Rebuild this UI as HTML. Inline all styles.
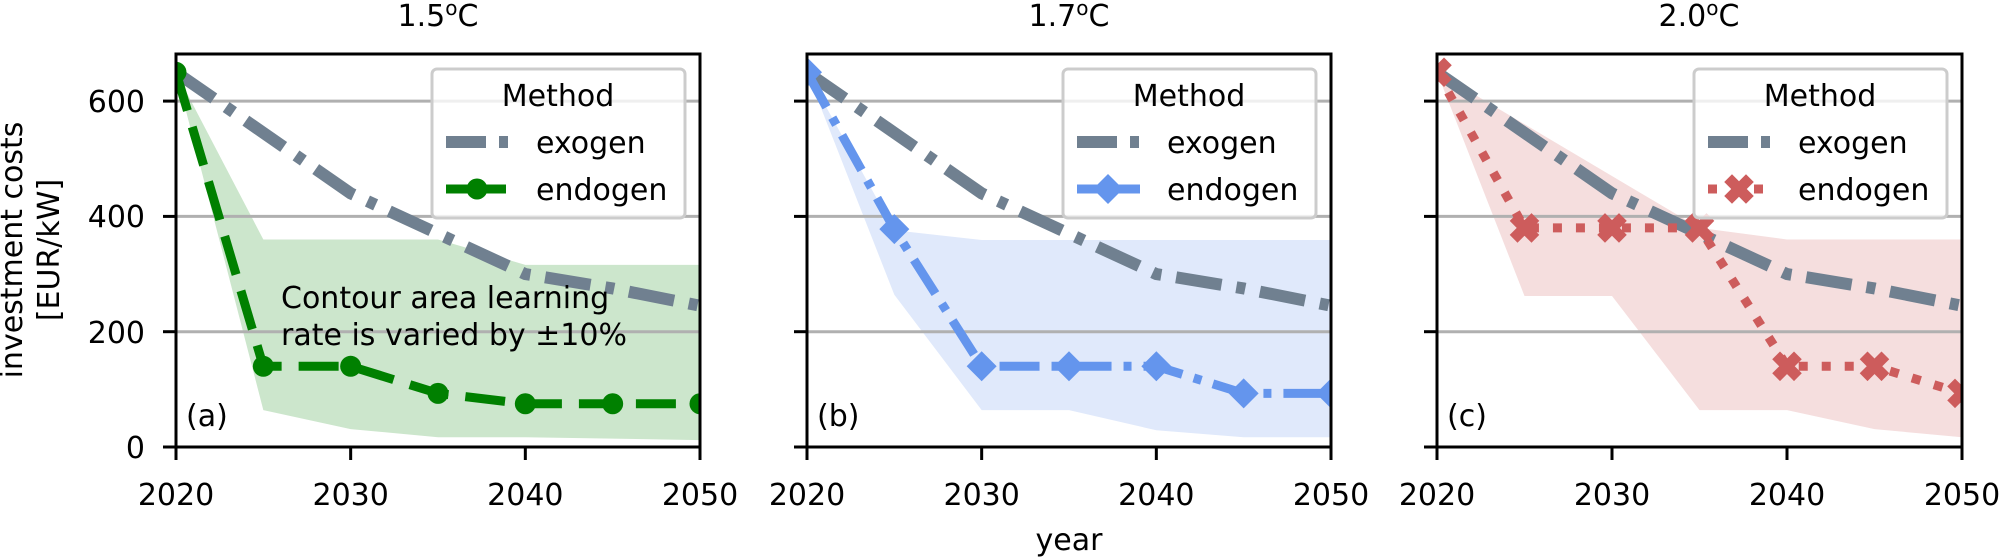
<!DOCTYPE html>
<html><head><meta charset="utf-8"><style>
html,body{margin:0;padding:0;background:#fff;}
svg{display:block;font-family:"DejaVu Sans","Liberation Sans",sans-serif;}
</style></head><body>
<svg id="s" width="2000" height="559" viewBox="0 0 2000 559" xmlns="http://www.w3.org/2000/svg">
<g id="plots"></g>
<g font-size="30" fill="#000">
<text x="438" y="26" text-anchor="middle">1.5<tspan font-size="20" dy="-11">o</tspan><tspan dy="11">C</tspan></text>
<text x="1069" y="26" text-anchor="middle">1.7<tspan font-size="20" dy="-11">o</tspan><tspan dy="11">C</tspan></text>
<text x="1699" y="26" text-anchor="middle">2.0<tspan font-size="20" dy="-11">o</tspan><tspan dy="11">C</tspan></text>
<text x="145" y="458" text-anchor="end">0</text>
<text x="145" y="343" text-anchor="end">200</text>
<text x="145" y="227" text-anchor="end">400</text>
<text x="145" y="112" text-anchor="end">600</text>
<text x="1069" y="550" text-anchor="middle">year</text>
<text transform="translate(22,250) rotate(-90)" text-anchor="middle">investment costs</text>
<text transform="translate(59,250) rotate(-90)" text-anchor="middle">[EUR/kW]</text>
<text x="281" y="308">Contour area learning</text>
<text x="281" y="345">rate is varied by ±10%</text>
<text x="186" y="426">(a)</text>
<text x="817" y="426">(b)</text>
<text x="1447" y="426">(c)</text>
</g>
<g id="ticks" font-size="30" text-anchor="middle"></g>
<g id="legs" font-size="30"></g>
</svg>
<script>
var NS="http://www.w3.org/2000/svg";
function el(p,t,a,txt){var e=document.createElementNS(NS,t);for(var k in a)e.setAttribute(k,a[k]);if(txt)e.textContent=txt;p.appendChild(e);return e;}
var P=document.getElementById('plots'),T=document.getElementById('ticks'),LG=document.getElementById('legs');
var yrs=[2020,2025,2030,2035,2040,2045,2050];
var exo=[650,545,440,370,300,275,245];
var panels=[
 {L:176,W:524,c:'#008000',f:'#cce6cc',d:[650,140,140,93,75,75,75],
  up:[[2020,650],[2025,360],[2035,360],[2040,316],[2050,316]],
  lo:[[2020,650],[2025,64],[2030,31],[2035,17],[2040,17],[2050,12]],dash:'40 17',m:'o'},
 {L:807,W:524,c:'#6495ED',f:'#e0e9fb',d:[650,378,140,140,140,93,93],
  up:[[2020,650],[2025,376],[2030,359],[2050,359]],
  lo:[[2020,650],[2025,264],[2030,64],[2035,64],[2040,29],[2045,17],[2050,17]],dash:'40 12 8 12',m:'d'},
 {L:1437,W:525,c:'#CD5C5C',f:'#f5dede',d:[650,380,380,380,140,140,93],
  up:[[2020,650],[2035,380],[2040,360],[2050,360]],
  lo:[[2020,650],[2025,262],[2030,262],[2035,64],[2040,64],[2045,31],[2050,17]],dash:'9 14',m:'x'}
];
function Y(v){return 447-v*0.5765;}
panels.forEach(function(p,i){
 function X(y){return p.L+(y-2020)*p.W/30;}
 var R=p.L+p.W;
 var cp=el(P,'clipPath',{id:'c'+i});el(cp,'rect',{x:p.L,y:54,width:p.W,height:393});
 var g=el(P,'g',{'clip-path':'url(#c'+i+')'});
 var pts=p.up.map(function(a){return X(a[0])+','+Y(a[1]);}).concat(p.lo.slice().reverse().map(function(a){return X(a[0])+','+Y(a[1]);}));
 el(g,'polygon',{points:pts.join(' '),fill:p.f});
 [200,400,600].forEach(function(v){el(g,'line',{x1:p.L,x2:R,y1:Y(v),y2:Y(v),stroke:'#b0b0b0','stroke-width':3});});
 el(g,'polyline',{points:yrs.map(function(y,k){return X(y)+','+Y(exo[k]);}).join(' '),fill:'none',stroke:'#708090','stroke-width':12,'stroke-dasharray':'46 15 9 15'});
 el(g,'polyline',{points:yrs.map(function(y,k){return X(y)+','+Y(p.d[k]);}).join(' '),fill:'none',stroke:p.c,'stroke-width':9,'stroke-dasharray':p.dash});
 function mk(par,x,y){
  if(p.m=='o')el(par,'circle',{cx:x,cy:y,r:10.5,fill:p.c});
  else if(p.m=='d')el(par,'polygon',{points:(x)+','+(y-15)+' '+(x+15)+','+y+' '+x+','+(y+15)+' '+(x-15)+','+y,fill:p.c});
  else el(par,'path',{d:'M'+(x-7)+','+(y-7)+'L'+(x+7)+','+(y+7)+'M'+(x+7)+','+(y-7)+'L'+(x-7)+','+(y+7),stroke:p.c,'stroke-width':11,'stroke-linecap':'square'});
 }
 yrs.forEach(function(y,k){mk(g,X(y),Y(p.d[k]));});
 el(P,'rect',{x:p.L,y:54,width:p.W,height:393,fill:'none',stroke:'#000','stroke-width':3});
 [0,200,400,600].forEach(function(v){el(P,'line',{x1:p.L-13,x2:p.L,y1:Y(v),y2:Y(v),stroke:'#000','stroke-width':3});});
 [2020,2030,2040,2050].forEach(function(y){el(P,'line',{x1:X(y),x2:X(y),y1:447,y2:460,stroke:'#000','stroke-width':3});el(T,'text',{x:X(y),y:505},String(y));});
 var lx=R-268,ly=69;
 el(LG,'rect',{x:lx,y:ly,width:253,height:149,rx:5,fill:'rgba(255,255,255,0.8)',stroke:'#cccccc','stroke-width':3});
 el(LG,'text',{x:lx+126,y:106,'text-anchor':'middle'},'Method');
 el(LG,'line',{x1:lx+14,x2:lx+77,y1:142,y2:142,stroke:'#708090','stroke-width':12,'stroke-dasharray':'40 13 9 13'});
 el(LG,'text',{x:lx+104,y:153},'exogen');
 el(LG,'line',{x1:lx+14,x2:lx+77,y1:189,y2:189,stroke:p.c,'stroke-width':9,'stroke-dasharray':p.m=='x'?'9 14':(p.m=='d'?'63 0':'24 12')});
 mk(LG,lx+45,189);
 el(LG,'text',{x:lx+104,y:200},'endogen');
});
</script>
</body></html>
